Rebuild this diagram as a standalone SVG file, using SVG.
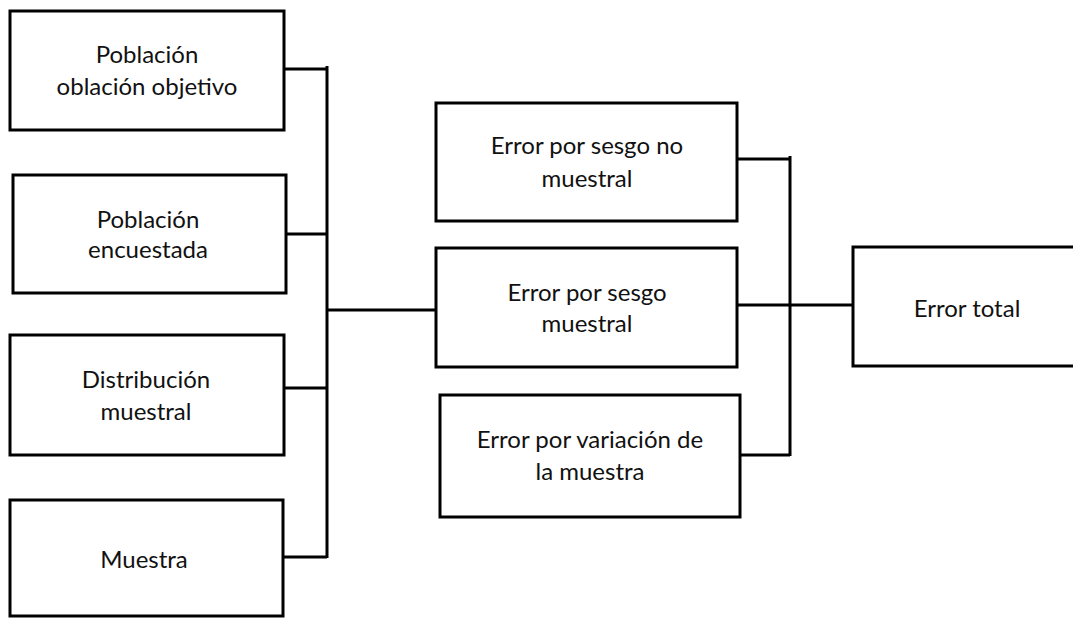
<svg xmlns="http://www.w3.org/2000/svg" width="1073" height="618" viewBox="0 0 1073 618">
<style>
.box{fill:#fff;stroke:#000;stroke-width:3}
.t{font-family:Lato,"Open Sans","Liberation Sans",sans-serif;font-size:24px;fill:#111;text-anchor:middle}
.c{fill:none;stroke:#000;stroke-width:3}
</style>
<rect width="1073" height="618" fill="#fff"/>
<g id="connectors">
<path class="c" d="M284 69H327M286 234H327M284 388H327M283 557H327M327 66V558M327 310H436"/>
<path class="c" d="M737 159H790M737 305H853M740 455H790M790 156V456"/>
</g>
<g id="n1"><rect class="box" x="10" y="11" width="274" height="119"/><text class="t" x="147" y="63">Población</text><text class="t" x="147" y="95">oblación objetivo</text></g>
<g id="n2"><rect class="box" x="13" y="175" width="273" height="118"/><text class="t" x="148" y="228">Población</text><text class="t" x="148" y="258">encuestada</text></g>
<g id="n3"><rect class="box" x="10" y="335" width="274" height="120"/><text class="t" x="146" y="388">Distribución</text><text class="t" x="146" y="420">muestral</text></g>
<g id="n4"><rect class="box" x="10" y="500" width="273" height="116"/><text class="t" x="144" y="568">Muestra</text></g>
<g id="n5"><rect class="box" x="436" y="103" width="301" height="118"/><text class="t" x="587" y="154">Error por sesgo no</text><text class="t" x="587" y="187">muestral</text></g>
<g id="n6"><rect class="box" x="436" y="248" width="301" height="119"/><text class="t" x="587" y="301">Error por sesgo</text><text class="t" x="587" y="332">muestral</text></g>
<g id="n7"><rect class="box" x="440" y="395" width="300" height="122"/><text class="t" x="590" y="448">Error por variación de</text><text class="t" x="590" y="480">la muestra</text></g>
<g id="n8"><rect class="box" x="853" y="247" width="240" height="119"/><text class="t" x="967" y="317">Error total</text></g>
</svg>
